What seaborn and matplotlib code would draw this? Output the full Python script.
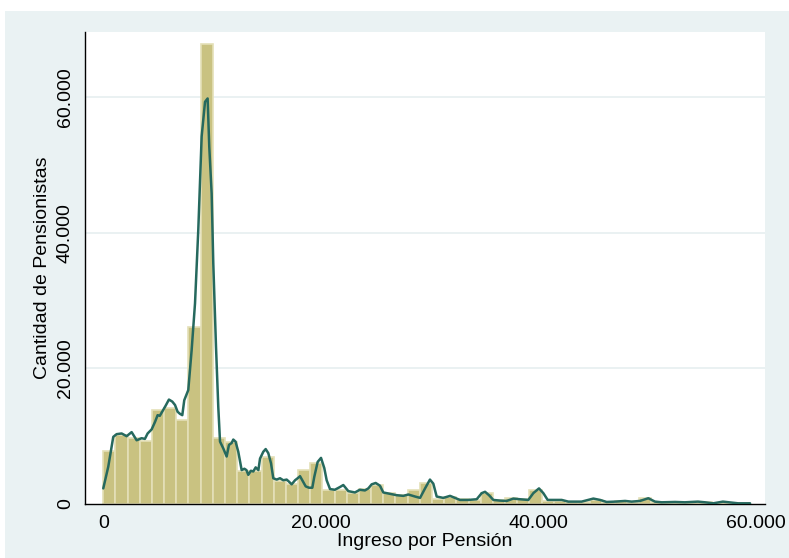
import numpy as np
import pandas as pd
import matplotlib
matplotlib.use("Agg")
import matplotlib.pyplot as plt
from matplotlib.patches import Rectangle
from matplotlib.ticker import FuncFormatter
import seaborn as sns

# histogram: bin width (pension income) and counts per bin (thousands of pensioners)
bin_width = 1120
bin_counts = [7.8, 10.2, 9.7, 9.3, 13.9, 14.1, 12.4, 26.1, 67.8, 9.8,
              9.1, 4.9, 4.8, 7.0, 3.4, 3.0, 5.0, 6.0, 2.0, 2.1,
              1.6, 2.2, 2.8, 1.6, 1.3, 2.0, 3.1, 0.8, 1.1, 0.7,
              0.6, 1.6, 0.6, 0.9, 0.7, 2.1, 0.4, 0.4, 0.3, 0.3,
              0.6, 0.35, 0.5, 0.3, 0.85, 0.25, 0.2, 0.2, 0.2, 0.25,
              0.15, 0.15, 0.1]

# smoothed frequency line (income in thousands, count in thousands)
line_x = [0, 0.46, 0.92, 1.23, 1.69, 2.15, 2.61, 3.07, 3.53, 3.83,
          4.08, 4.45, 4.76, 5.0, 5.2, 5.52, 5.74, 6.04, 6.35, 6.6,
          6.84, 7.05, 7.27, 7.45, 7.82, 8.13, 8.44, 8.74, 9.05, 9.36,
          9.6, 9.75, 9.97, 10.12, 10.37, 10.58, 10.74, 11.04, 11.35, 11.56,
          11.81, 11.96, 12.17, 12.42, 12.73, 12.98, 13.17, 13.34, 13.58, 13.8,
          14.02, 14.27, 14.42, 14.72, 14.94, 15.18, 15.43, 15.64, 15.95, 16.26,
          16.56, 16.87, 17.08, 17.33, 17.64, 17.88, 18.1, 18.31, 18.62, 18.92,
          19.23, 19.41, 19.72, 20.03, 20.33, 20.55, 20.86, 21.3, 21.77, 22.08,
          22.54, 23.15, 23.6, 24.07, 24.38, 24.69, 25.06, 25.45, 25.76, 26.37,
          26.99, 27.6, 28.06, 28.68, 29.14, 29.6, 30.05, 30.36, 30.67, 31.28,
          31.9, 32.35, 32.81, 33.58, 34.35, 34.81, 35.12, 35.48, 35.88, 36.5,
          37.11, 37.72, 38.33, 39.1, 39.56, 40.08, 40.48, 40.88, 41.55, 42.17,
          42.78, 44.0, 45.08, 45.7, 46.3, 47.07, 48.0, 48.6, 49.37, 50.14,
          50.75, 51.37, 52.6, 53.5, 54.7, 55.35, 56.1, 57.0, 57.8, 58.4, 59.5]
line_y = [2.3, 5.5, 9.9, 10.3, 10.4, 10.0, 10.6, 9.4, 9.7, 9.6,
          10.4, 11.0, 12.1, 13.1, 13.0, 13.9, 14.5, 15.4, 15.1, 14.6,
          13.6, 13.3, 13.1, 15.3, 16.8, 22.7, 29.6, 40.4, 54.2, 59.3,
          59.8, 52.7, 45.8, 35.5, 23.2, 14.3, 9.2, 8.2, 7.0, 8.7,
          9.0, 9.5, 9.2, 7.7, 5.0, 5.2, 5.0, 4.3, 4.9, 4.8,
          5.4, 5.0, 6.7, 7.7, 8.1, 7.5, 6.0, 3.8, 3.6, 3.8,
          3.5, 3.6, 3.3, 2.9, 3.5, 3.8, 4.1, 3.5, 2.6, 2.4,
          2.4, 4.0, 6.2, 6.8, 5.3, 3.5, 2.2, 2.1, 2.5, 2.8,
          1.9, 1.7, 2.1, 2.0, 2.3, 2.9, 3.1, 2.7, 1.7, 1.5,
          1.3, 1.2, 1.4, 1.1, 0.9, 2.3, 3.6, 3.0, 1.1, 0.9,
          1.2, 0.9, 0.6, 0.6, 0.7, 1.6, 1.8, 1.3, 0.6, 0.5,
          0.45, 0.8, 0.7, 0.6, 1.6, 2.3, 1.6, 0.6, 0.6, 0.6,
          0.35, 0.35, 0.8, 0.6, 0.3, 0.35, 0.45, 0.35, 0.45, 0.85,
          0.35, 0.25, 0.3, 0.25, 0.35, 0.25, 0.1, 0.35, 0.2, 0.1, 0.1]

x_ticks = [0, 20000, 40000, 60000]
y_ticks = [0, 20000, 40000, 60000]

n_bins = len(bin_counts)
hist_df = pd.DataFrame({
    "ingreso": (np.arange(n_bins) + 0.5) * bin_width,
    "n": np.array(bin_counts) * 1000,
})
line_df = pd.DataFrame({
    "ingreso": np.array(line_x) * 1000,
    "n": np.array(line_y) * 1000,
})

sns.set_style("white")
plt.rcParams["font.family"] = ["Liberation Sans", "DejaVu Sans"]
plt.rcParams["text.color"] = "black"
plt.rcParams["axes.labelcolor"] = "black"

fig = plt.figure(figsize=(7.89, 5.58), dpi=100)
fig.patches.append(Rectangle((5 / 789, 0), 1, 547 / 558, transform=fig.transFigure,
                             facecolor="#EAF2F3", edgecolor="none", zorder=-10))
ax = fig.add_axes([85 / 789, 54 / 558, 680 / 789, 472 / 558])
ax.set_facecolor("white")

sns.histplot(data=hist_df, x="ingreso", weights="n", binwidth=bin_width,
             binrange=(0, n_bins * bin_width), ax=ax,
             color="#C9C281", edgecolor="#E4E0B8", linewidth=1.2, alpha=1, zorder=2)
sns.lineplot(data=line_df, x="ingreso", y="n", ax=ax, color="#26695E",
             linewidth=1.8, zorder=3)

ax.set_xlim(-1680, 60870)
ax.set_ylim(0, 69600)
ax.set_xticks(x_ticks)
ax.set_yticks(y_ticks)
fmt = FuncFormatter(lambda v, p: f"{int(v):,}".replace(",", "."))
ax.xaxis.set_major_formatter(fmt)
ax.yaxis.set_major_formatter(fmt)
for t in ax.get_yticklabels():
    t.set_rotation(90)
    t.set_va("center")

ax.grid(False)
for yv in y_ticks[1:]:
    ax.axhline(yv, color="#E6EFF0", linewidth=1.2, zorder=1)

for s in ["top", "right"]:
    ax.spines[s].set_visible(False)
for s in ["left", "bottom"]:
    ax.spines[s].set_color("black")
    ax.spines[s].set_linewidth(1.0)

ax.tick_params(axis="both", direction="out", length=5, width=1, color="black",
               labelsize=14, labelcolor="black", pad=3)
ax.set_xlabel("Ingreso por Pensión", fontsize=14, labelpad=1, color="black")
ax.set_ylabel("Cantidad de Pensionistas", fontsize=14, labelpad=4, color="black")

fig.savefig("out.png", dpi=100)
